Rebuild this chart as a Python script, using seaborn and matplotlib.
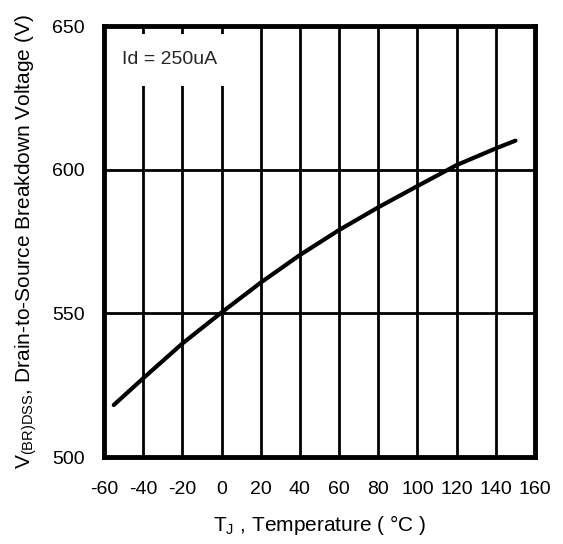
import numpy as np
import pandas as pd
import seaborn as sns
import matplotlib.pyplot as plt

temperature = [-55, -40, -20, 0, 20, 40, 60, 80, 100, 120, 140, 150]
breakdown_v = [518.1, 527.4, 539.5, 550.3, 560.7, 570.3, 579.0, 586.9, 594.3, 601.6, 607.4, 610.1]
x_ticks = [-60, -40, -20, 0, 20, 40, 60, 80, 100, 120, 140, 160]
y_ticks = [500, 550, 600, 650]

sns.set_theme(style="white")
plt.rcParams['font.family'] = ['Liberation Sans', 'DejaVu Sans']
plt.rcParams['mathtext.fontset'] = 'custom'
plt.rcParams['mathtext.rm'] = 'Liberation Sans'
plt.rcParams['axes.unicode_minus'] = False

df = pd.DataFrame({"T": temperature, "V": breakdown_v})

fig = plt.figure(figsize=(5.63, 5.44), dpi=100)
ax = fig.add_axes([0.1847, 0.1599, 0.7656, 0.7923])

for x in x_ticks[1:-1]:
    ax.axvline(x, color="black", lw=2, zorder=1)
for y in y_ticks[1:-1]:
    ax.axhline(y, color="black", lw=2, zorder=1)

sns.lineplot(data=df, x="T", y="V", color="black", lw=3, ax=ax, zorder=3)

ax.set_xlim(-60, 160)
ax.set_ylim(500, 650)
ax.set_xticks(x_ticks)
ax.set_yticks(y_ticks)
ax.tick_params(length=0, labelsize=14, colors="black")
ax.tick_params(axis="x", pad=17)
ax.tick_params(axis="y", pad=14)
for s in ax.spines.values():
    s.set_linewidth(3.5)
    s.set_color("black")
    s.set_zorder(6)

ax.text(-51, 638.3, "Id = 250uA", fontsize=14, va="center", ha="left", zorder=4,
        bbox=dict(boxstyle="square,pad=0.9", facecolor="white", edgecolor="none"))

ax.set_xlabel(r"T$_{\mathrm{J}}$ , Temperature ( °C )", fontsize=15, labelpad=11, color="black")
ax.set_ylabel(r"V$_{\mathrm{(BR)DSS}}$, Drain-to-Source Breakdown Voltage (V)", fontsize=15,
              labelpad=9, color="black")

fig.savefig("out.png", dpi=100)
